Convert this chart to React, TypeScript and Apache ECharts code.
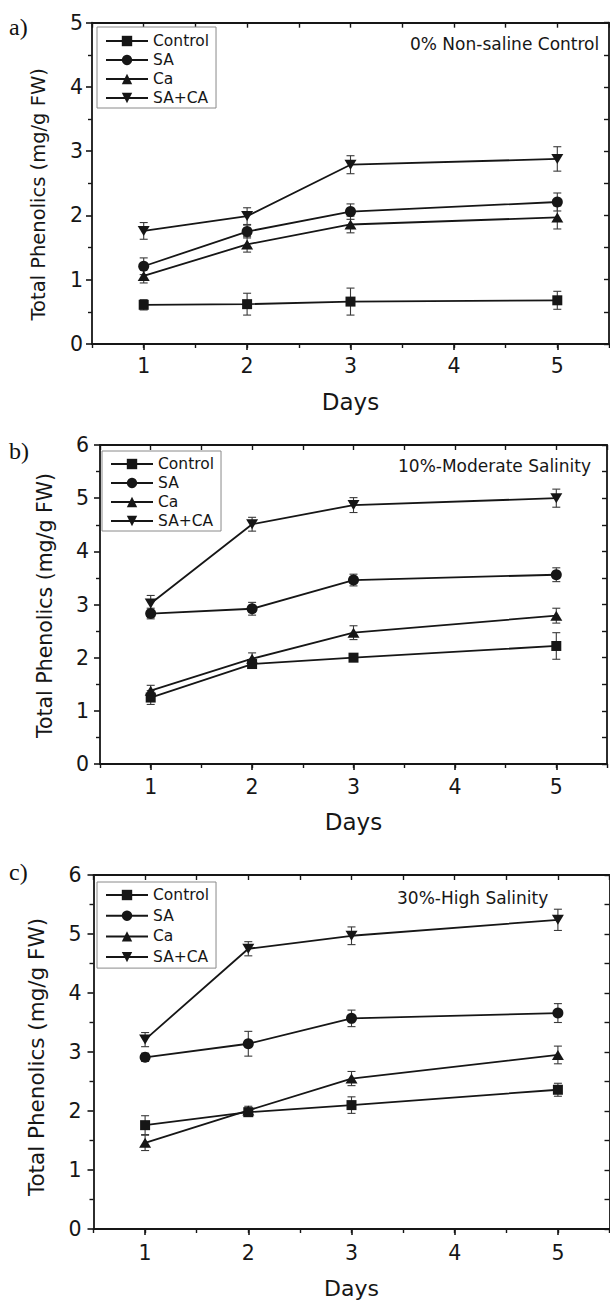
import React, { useEffect, useRef } from 'react';
import * as echarts from 'echarts';

// ---- data ----
const days = [1, 2, 3, 5];
const seriesNames = ['Control', 'SA', 'Ca', 'SA+CA'];
const xTickValues = [1, 2, 3, 4, 5];
const panelLetters = ['a)', 'b)', 'c)'];
const panelNotes = ['0% Non-saline Control', '10%-Moderate Salinity', '30%-High Salinity'];
const yMaxes = [5, 6, 6];

// Panel a) 0% Non-saline Control
const aControl = [0.61, 0.62, 0.66, 0.68];
const aControlErr = [0.08, 0.17, 0.21, 0.14];
const aSA = [1.21, 1.75, 2.06, 2.21];
const aSAErr = [0.13, 0.1, 0.12, 0.14];
const aCa = [1.06, 1.55, 1.86, 1.97];
const aCaErr = [0.11, 0.12, 0.13, 0.18];
const aSACA = [1.76, 1.99, 2.79, 2.88];
const aSACAErr = [0.13, 0.13, 0.14, 0.19];

// Panel b) 10%-Moderate Salinity
const bControl = [1.25, 1.88, 2.0, 2.22];
const bControlErr = [0.13, 0.08, 0.07, 0.25];
const bSA = [2.83, 2.92, 3.46, 3.56];
const bSAErr = [0.1, 0.12, 0.11, 0.13];
const bCa = [1.38, 1.98, 2.47, 2.79];
const bCaErr = [0.1, 0.11, 0.13, 0.14];
const bSACA = [3.02, 4.51, 4.87, 5.0];
const bSACAErr = [0.15, 0.13, 0.14, 0.17];

// Panel c) 30%-High Salinity
const cControl = [1.76, 1.98, 2.1, 2.36];
const cControlErr = [0.16, 0.07, 0.14, 0.11];
const cSA = [2.91, 3.14, 3.57, 3.66];
const cSAErr = [0.07, 0.21, 0.14, 0.16];
const cCa = [1.46, 2.01, 2.55, 2.95];
const cCaErr = [0.13, 0.07, 0.12, 0.15];
const cSACA = [3.21, 4.75, 4.97, 5.24];
const cSACAErr = [0.12, 0.12, 0.15, 0.18];

const panelValues = [
  [aControl, aSA, aCa, aSACA],
  [bControl, bSA, bCa, bSACA],
  [cControl, cSA, cCa, cSACA],
];
const panelErrors = [
  [aControlErr, aSAErr, aCaErr, aSACAErr],
  [bControlErr, bSAErr, bCaErr, bSACAErr],
  [cControlErr, cSAErr, cCaErr, cSACAErr],
];

// ---- styling / layout ----
const FONT = '"DejaVu Sans", sans-serif';
const SERIF = '"Liberation Serif", "Times New Roman", serif';
const INK = '#161616';

const layouts = [
  { left: 92, top: 22.7, width: 517, height: 321.3, yNameGap: 44, yNameShift: 22, yNameSize: 19.5, xNameGap: 46, xNameSize: 23, yLabelMargin: 9, xLabelMargin: 11,
    legend: { left: 97, top: 27, padding: [6, 7, 2, 8], gap: 3 }, note: { x: 410, y: 43.5 }, letter: { x: 9, y: 27 } },
  { left: 100, top: 445, width: 507, height: 319, yNameGap: 44.5, yNameShift: 2, yNameSize: 20.5, xNameGap: 46, xNameSize: 23, yLabelMargin: 11, xLabelMargin: 12,
    legend: { left: 102, top: 451, padding: [5, 7, 2, 8], gap: 3 }, note: { x: 398, y: 466 }, letter: { x: 9, y: 451 } },
  { left: 93.5, top: 875, width: 516, height: 354, yNameGap: 46.5, yNameShift: 10, yNameSize: 21.5, xNameGap: 48, xNameSize: 22, yLabelMargin: 12, xLabelMargin: 13,
    legend: { left: 97, top: 882, padding: [5, 7, 3, 8], gap: 4.7 }, note: { x: 397, y: 898 }, letter: { x: 9, y: 872 } },
];

const symbols = ['rect', 'circle', 'triangle', 'path://M0,0 L12,0 L6,10 Z'];
const symbolSizes: any[] = [10, 11, [12, 10], [12, 10]];

function buildOption() {
  const grid: any[] = [];
  const xAxis: any[] = [];
  const yAxis: any[] = [];
  const series: any[] = [];
  const legend: any[] = [];
  const graphic: any[] = [];

  layouts.forEach((L, i) => {
    grid.push({ left: L.left, top: L.top, width: L.width, height: L.height, show: false, outerBoundsMode: 'none', containLabel: false });
    // main bottom axis
    xAxis.push({
      gridIndex: i, type: 'value', position: 'bottom', min: 0.5, max: 5.5,
      name: 'Days', nameLocation: 'middle', nameGap: L.xNameGap,
      nameTextStyle: { fontFamily: FONT, fontSize: L.xNameSize, color: INK },
      axisLine: { show: true, onZero: false, lineStyle: { color: INK, width: 1.8 } },
      axisTick: { show: true, inside: false, length: 6, customValues: xTickValues, lineStyle: { color: INK, width: 1.6 } },
      axisLabel: { show: true, customValues: xTickValues, margin: L.xLabelMargin, fontFamily: FONT, fontSize: 20.5, color: INK },
      splitLine: { show: false },
    });
    // minor bottom ticks
    xAxis.push({
      gridIndex: i, type: 'value', position: 'bottom', min: 0.5, max: 5.5, interval: 0.5,
      axisLine: { show: false, onZero: false },
      axisTick: { show: true, inside: false, length: 4, lineStyle: { color: INK, width: 1.4 } },
      axisLabel: { show: false },
      splitLine: { show: false },
    });
    // top mirror
    xAxis.push({
      gridIndex: i, type: 'value', position: 'top', min: 0.5, max: 5.5, interval: 0.5,
      axisLine: { show: true, onZero: false, lineStyle: { color: INK, width: 1.8 } },
      axisTick: { show: true, inside: true, length: 5, lineStyle: { color: INK, width: 1.4 } },
      axisLabel: { show: false },
      splitLine: { show: false },
    });
    // left
    yAxis.push({
      gridIndex: i, type: 'value', position: 'left', min: 0, max: yMaxes[i], interval: 1,
      name: 'Total Phenolics (mg/g FW)', nameLocation: 'middle', nameGap: L.yNameGap,
      nameTextStyle: { fontFamily: FONT, fontSize: L.yNameSize, color: INK, padding: [0, L.yNameShift, 0, 0] },
      axisLine: { show: true, onZero: false, lineStyle: { color: INK, width: 1.8 } },
      axisTick: { show: true, inside: false, length: 6, lineStyle: { color: INK, width: 1.6 } },
      minorTick: { show: true, splitNumber: 2, length: 4, lineStyle: { color: INK, width: 1.4 } },
      axisLabel: { show: true, margin: L.yLabelMargin, fontFamily: FONT, fontSize: 20.5, color: INK },
      splitLine: { show: false },
      minorSplitLine: { show: false },
    });
    // right mirror
    yAxis.push({
      gridIndex: i, type: 'value', position: 'right', min: 0, max: yMaxes[i], interval: 0.5,
      axisLine: { show: true, onZero: false, lineStyle: { color: INK, width: 1.8 } },
      axisTick: { show: true, inside: true, length: 5, lineStyle: { color: INK, width: 1.4 } },
      axisLabel: { show: false },
      splitLine: { show: false },
    });

    const xIdx = 3 * i;
    const yIdx = 2 * i;

    // error bars
    const errData: number[][] = [];
    panelValues[i].forEach((vals, s) => {
      vals.forEach((v, k) => {
        const e = panelErrors[i][s][k];
        errData.push([days[k], v - e, v + e]);
      });
    });
    series.push({
      type: 'custom', name: 'err' + i, xAxisIndex: xIdx, yAxisIndex: yIdx, z: 1, silent: true,
      data: errData,
      encode: { x: 0, y: [1, 2] },
      renderItem: (params: any, api: any) => {
        const x = api.value(0);
        const lo = api.coord([x, api.value(1)]);
        const hi = api.coord([x, api.value(2)]);
        const w = 4;
        const st = { stroke: '#3a3a3a', lineWidth: 1.1 };
        return {
          type: 'group',
          children: [
            { type: 'line', shape: { x1: hi[0], y1: hi[1], x2: lo[0], y2: lo[1] }, style: st },
            { type: 'line', shape: { x1: hi[0] - w, y1: hi[1], x2: hi[0] + w, y2: hi[1] }, style: st },
            { type: 'line', shape: { x1: lo[0] - w, y1: lo[1], x2: lo[0] + w, y2: lo[1] }, style: st },
          ],
        };
      },
    });

    seriesNames.forEach((name, s) => {
      series.push({
        type: 'line', name, xAxisIndex: xIdx, yAxisIndex: yIdx, z: 3,
        data: days.map((d, k) => [d, panelValues[i][s][k]]),
        symbol: symbols[s], symbolSize: symbolSizes[s], showAllSymbol: true,
        lineStyle: { color: INK, width: 1.8 },
        itemStyle: { color: INK, borderWidth: 0 },
        emphasis: { disabled: true },
      });
    });

    legend.push({
      show: true, orient: 'vertical', left: L.legend.left, top: L.legend.top,
      padding: L.legend.padding, itemGap: L.legend.gap, itemWidth: 42, itemHeight: 13,
      borderColor: '#8a8a8a', borderWidth: 1, backgroundColor: '#fff',
      data: seriesNames, selectedMode: false,
      textStyle: { fontFamily: FONT, fontSize: 15.5, color: INK },
    });

    graphic.push({
      type: 'text', x: L.note.x, y: L.note.y, z: 10,
      style: { text: panelNotes[i], font: `17px ${FONT}`, fill: INK, verticalAlign: 'middle', align: 'left' },
    });
    graphic.push({
      type: 'text', x: L.letter.x, y: L.letter.y, z: 10,
      style: { text: panelLetters[i], font: `24px ${SERIF}`, fill: '#111', verticalAlign: 'middle', align: 'left' },
    });
  });

  return {
    animation: false,
    backgroundColor: '#fff',
    grid, xAxis, yAxis, series, legend, graphic,
  };
}

export default function App() {
  const ref = useRef<HTMLDivElement>(null);
  useEffect(() => {
    if (!ref.current) return;
    const chart = echarts.init(ref.current, undefined, { renderer: 'svg' });
    chart.setOption(buildOption() as any);
    return () => chart.dispose();
  }, []);
  return (
    <div
      ref={ref}
      style={{ position: 'absolute', left: 0, top: 0, width: 610, height: 1303, background: '#fff' }}
    />
  );
}
